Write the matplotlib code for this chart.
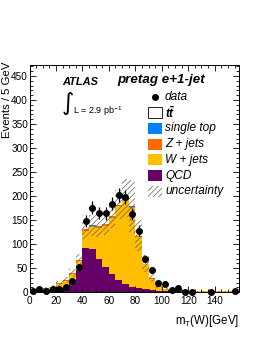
import numpy as np
import matplotlib
matplotlib.use("Agg")
import matplotlib.pyplot as plt
from matplotlib.patches import Rectangle
from matplotlib.lines import Line2D
from matplotlib.ticker import MultipleLocator

plt.rcParams['font.family'] = ['Liberation Sans', 'DejaVu Sans']
plt.rcParams['mathtext.fontset'] = 'custom'
plt.rcParams['mathtext.rm'] = 'Liberation Sans'
plt.rcParams['mathtext.it'] = 'Liberation Sans:italic'
plt.rcParams['mathtext.bf'] = 'Liberation Sans:bold:italic'
plt.rcParams['hatch.linewidth'] = 0.5

# ---------------- data ----------------
bin_edges = np.arange(0, 165, 5)  # 0 .. 160 GeV, 5 GeV bins
qcd = [3, 4, 4, 5, 8, 12, 20, 47, 93, 90, 70, 52, 38, 26, 18, 12,
       9, 6, 5, 3, 2.5, 2, 2, 1.5, 1.5, 1, 1, 1, 1, 0.5, 0.5, 0.5]
wjets = [1.5, 2.5, 3.5, 6.5, 10, 12, 18.5, 19, 35, 46, 64, 87, 117, 153.5, 174.5, 164,
         107, 52, 23.5, 9, 4.8, 3.4, 1.5, 1, 1.2, 1.2, 1, 1, 1, 1.4, 1.4, 1.4]
zjets = [0.5, 0.5, 0.5, 0.5, 1, 1, 1.5, 2, 3, 3, 3, 3, 3, 3, 3, 2.5,
         2, 1.5, 1, 0.7, 0.5, 0.4, 0.3, 0.3, 0.2, 0.2, 0.1, 0.1, 0.1, 0.1, 0.1, 0.1]
single_top = [0, 0, 0, 0, 0, 0, 0, 0, 0.1, 0.1, 0.1, 0.1, 0.1, 0.1, 0.1, 0.1,
              0.1, 0.1, 0.1, 0.1, 0, 0, 0, 0, 0, 0, 0, 0, 0, 0, 0, 0]
ttbar = [0, 0, 0, 0, 0, 0, 0, 0, 0.1, 0.1, 0.1, 0.1, 0.1, 0.1, 0.1, 0.1,
         0.1, 0.1, 0.1, 0.1, 0, 0, 0, 0, 0, 0, 0, 0, 0, 0, 0, 0]
uncertainty = [1.5, 2, 2, 3, 5, 6, 8, 12, 20, 22, 22, 22, 25, 30, 40, 55,
               33, 17, 8, 4, 2, 1.5, 1, 1, 1, 1, 0.5, 0.5, 0.5, 0.5, 0.5, 0.5]

data_x = [2.5, 7.5, 12.5, 17.5, 22.5, 27.5, 32.5, 37.5, 42.5, 47.5, 52.5, 57.5, 62.5,
          67.5, 72.5, 77.5, 82.5, 87.5, 92.5, 97.5, 102.5, 107.5, 112.5, 117.5, 122.5,
          137.5, 155]
data_y = [3, 6, 3, 7, 7, 10, 24, 52, 148, 176, 165, 164, 184,
          202, 198, 163, 128, 69, 46, 19, 17, 5, 9, 1, 1, 1, 2]

legend_labels = ['data', r'$\mathbf{t\bar{t}}$', 'single top', 'Z + jets', 'W + jets',
                 'QCD', 'uncertainty']
colors = {'ttbar': 'white', 'single top': '#0080ff', 'Z + jets': '#ff6a00',
          'W + jets': '#ffbf00', 'QCD': '#660066'}

# ---------------- figure ----------------
W, H = 262, 339
fig = plt.figure(figsize=(W / 100, H / 100), dpi=100)
L, R, T, B = 29.5, 238.5, 65, 292.3
ax = fig.add_axes([L / W, 1 - B / H, (R - L) / W, (B - T) / H])

def px(x, y):
    return (x / W, 1 - y / H)

stack = [('QCD', qcd), ('W + jets', wjets), ('Z + jets', zjets),
         ('single top', single_top), ('ttbar', ttbar)]
bottom = np.zeros(len(qcd))
for name, vals in stack:
    vals = np.asarray(vals, dtype=float)
    ax.stairs(bottom + vals, bin_edges, baseline=bottom, fill=True,
              facecolor=colors[name], edgecolor='none', linewidth=0)
    bottom = bottom + vals
total = bottom
err = np.asarray(uncertainty, dtype=float)
ax.stairs(total + err, bin_edges, baseline=np.clip(total - err, 0, None), fill=True,
          facecolor='none', edgecolor='#606060', hatch='//////', linewidth=0)

dy = np.sqrt(np.asarray(data_y, dtype=float))
ax.errorbar(data_x, data_y, yerr=dy, fmt='o', color='black', ms=4.0,
            elinewidth=0.9, capsize=0, zorder=5, clip_on=False)

ax.set_xlim(0, 158)
ax.set_ylim(0, 473)
ax.xaxis.set_major_locator(MultipleLocator(20))
ax.xaxis.set_minor_locator(MultipleLocator(5))
ax.yaxis.set_major_locator(MultipleLocator(50))
ax.yaxis.set_minor_locator(MultipleLocator(10))
ax.tick_params(which='both', direction='in', top=True, right=True, labelsize=7.2,
               width=0.6)
ax.tick_params(which='major', length=4.0)
ax.tick_params(which='minor', length=2.0)
ax.tick_params(axis='y', pad=1)
ax.tick_params(axis='x', pad=3)
for s in ax.spines.values():
    s.set_linewidth(0.7)

# axis labels
fig.text(*px(7.5, 61.5), 'Events / 5 GeV', rotation=90, ha='center', va='top', fontsize=8.2)
fig.text(*px(239, 321), r'm$_{\mathrm{T}}$(W)[GeV]', ha='right', va='center', fontsize=8.3)

# labels in plot
fig.text(*px(62, 82), 'ATLAS', ha='left', va='center', fontsize=7.9,
         fontweight='bold', fontstyle='italic')
fig.text(*px(117, 80), 'pretag e+1-jet', ha='left', va='center', fontsize=9.6,
         fontweight='bold', fontstyle='italic')
fig.text(*px(68, 103), '\u222b', ha='center', va='center', fontsize=17,
         family=['DejaVu Sans'])
fig.text(*px(73, 111), r'L = 2.9 pb$^{\mathrm{-1}}$', ha='left', va='center', fontsize=6.5)

# legend
ys = [97, 112.7, 128.4, 144.1, 159.8, 175.5, 191.2]
bx0, bw, bh = 148, 14, 11
for i, lab in enumerate(legend_labels):
    y = ys[i]
    if lab == 'data':
        fig.add_artist(Line2D([px(155, y)[0]], [px(155, y)[1]], marker='o', color='black',
                              ms=4.0, transform=fig.transFigure))
    else:
        key = {r'$\mathbf{t\bar{t}}$': 'ttbar'}.get(lab, lab)
        x0, y0 = px(bx0, y + bh / 2)
        if key == 'uncertainty':
            r = Rectangle((x0, y0), bw / W, bh / H, transform=fig.transFigure,
                          facecolor='none', edgecolor='#606060', hatch='//////', linewidth=0)
        else:
            r = Rectangle((x0, y0), bw / W, bh / H, transform=fig.transFigure,
                          facecolor=colors[key],
                          edgecolor='black' if key == 'ttbar' else 'none', linewidth=0.6)
        fig.add_artist(r)
    fig.text(*px(165, y), lab, ha='left', va='center', fontsize=8.6, fontstyle='italic')

fig.savefig('out.png', dpi=100)
